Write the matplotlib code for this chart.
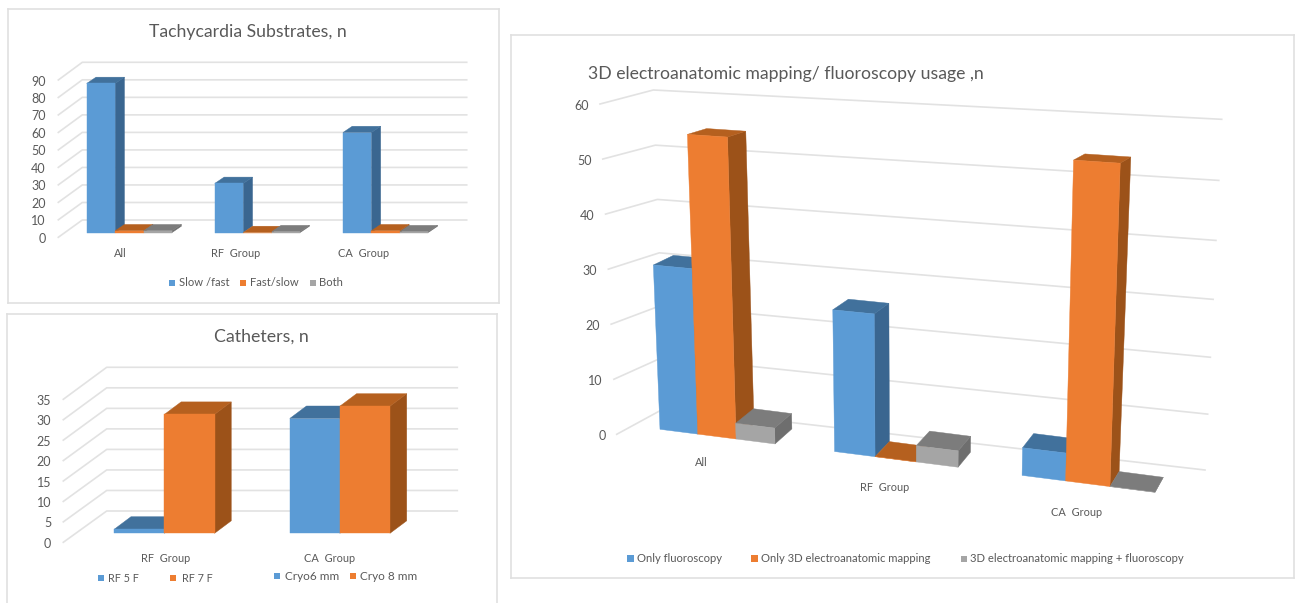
import numpy as np
import matplotlib
matplotlib.use("Agg")
import matplotlib.pyplot as plt
from matplotlib.patches import Polygon, Rectangle

plt.rcParams['font.family'] = ['Lato', 'DejaVu Sans']

W, H = 1295, 603
TEXT = "#595959"
GRID = "#e2e2e2"
FRAME = "#e0e0e0"

# front, top and side colours of the excel style 3d bars
BLUE = ("#5b9bd5", "#41719c", "#3a6690")
ORANGE = ("#ed7d31", "#b5601f", "#9c5219")
GRAY = ("#a5a5a5", "#7c7c7c", "#6e6e6e")

groups = ["All", "RF  Group", "CA  Group"]

slow_fast = [85, 28, 57]
fast_slow = [1, 0, 1]
both = [1, 0.5, 0.5]

cath_groups = ["RF  Group", "CA  Group"]
cath_blue = [1, 28]
cath_orange = [29, 31]

only_fluoro = [31, 26, 5]
only_3d = [55, 0, 55]
combined = [3, 3, 0]


def homography(quad, xmax, vmax):
    # maps (x, v) to pixels from corners given as
    # (0,0), (xmax,0), (xmax,vmax), (0,vmax)
    src = [(0, 0), (xmax, 0), (xmax, vmax), (0, vmax)]
    A = []
    b = []
    for (x, v), (px, py) in zip(src, quad):
        A.append([x, v, 1, 0, 0, 0, -px * x, -px * v])
        A.append([0, 0, 0, x, v, 1, -py * x, -py * v])
        b += [px, py]
    h = np.linalg.solve(np.array(A, float), np.array(b, float))
    return np.append(h, 1).reshape(3, 3)


def project(M, x, v):
    p = M @ np.array([x, v, 1.0])
    return p[:2] / p[2]


def panel(x0, y0, x1, y1):
    # every panel uses figure pixels as its data coordinates
    ax = plt.gcf().add_axes([x0 / W, 1 - y1 / H, (x1 - x0) / W, (y1 - y0) / H])
    ax.set_xlim(x0, x1)
    ax.set_ylim(y1, y0)
    ax.set_xticks([])
    ax.set_yticks([])
    for s in ax.spines.values():
        s.set_color(FRAME)
        s.set_linewidth(1.2)
    return ax


def walls(ax, ticks, edge, wall, label_gap=11, fs=9):
    # gridlines on the back wall plus the short floor lines at the left
    vmax = ticks[-1]
    Mw = homography(wall, 1, vmax)
    for t in ticks:
        e = np.array(edge[0]) + (np.array(edge[1]) - np.array(edge[0])) * t / vmax
        a = project(Mw, 0, t)
        b = project(Mw, 1, t)
        ax.plot([e[0], a[0], b[0]], [e[1], a[1], b[1]], color=GRID, lw=1.2, zorder=1)
        ax.text(e[0] - label_gap, e[1] + 1.5, str(t), ha="right", va="center", color=TEXT, fontsize=fs)


def box(ax, Mf, Mb, x0, x1, v, colors):
    side = [project(Mf, x1, 0), project(Mb, x1, 0), project(Mb, x1, v), project(Mf, x1, v)]
    top = [project(Mf, x0, v), project(Mf, x1, v), project(Mb, x1, v), project(Mb, x0, v)]
    front = [project(Mf, x0, 0), project(Mf, x1, 0), project(Mf, x1, v), project(Mf, x0, v)]
    for poly, c in ((side, colors[2]), (top, colors[1]), (front, colors[0])):
        ax.add_patch(Polygon(poly, closed=True, facecolor=c, edgecolor=c, lw=0.3, zorder=3))


def bars(ax, Mf, Mb, series, colors, pitch):
    for i in range(len(series[0])):
        for k, vals in enumerate(series):
            box(ax, Mf, Mb, i * pitch + k, i * pitch + k + 1, vals[i], colors[k])


def legend_item(ax, xm, ym, xt, label, color, size=6, fs=8.1):
    ax.add_patch(Rectangle((xm, ym - size / 2), size, size, facecolor=color, edgecolor="none"))
    ax.text(xt, ym, label, ha="left", va="center", color=TEXT, fontsize=fs)


fig = plt.figure(figsize=(W / 100, H / 100), dpi=100)

# Tachycardia substrates
ax1 = panel(8, 9, 499, 303)
ax1.text(248, 32, "Tachycardia Substrates, n", ha="center", va="center", color=TEXT, fontsize=12.7)
walls(ax1, list(range(0, 100, 10)), [(58.3, 237.3), (58.3, 80)],
      [(82.3, 220), (466.7, 220), (466.7, 62.3), (82.3, 62.3)], label_gap=12.5)
front1 = [(86.7, 232.5), (428.3, 232.5), (428.3, 74.7), (86.7, 74.7)]
back1 = [(x + 9.3, y - 6.3) for x, y in front1]
Mf1, Mb1 = homography(front1, 12, 90), homography(back1, 12, 90)
bars(ax1, Mf1, Mb1, [slow_fast, fast_slow, both], [BLUE, ORANGE, GRAY], 4.5)
for label, x in zip(groups, [120, 235.7, 363.3]):
    ax1.text(x, 253.3, label, ha="center", va="center", color=TEXT, fontsize=7.9)
legend_item(ax1, 169, 283, 179, "Slow /fast", BLUE[0])
legend_item(ax1, 240, 283, 250, "Fast/slow", ORANGE[0])
legend_item(ax1, 310, 283, 319, "Both", GRAY[0])

# Catheters
ax2 = panel(7, 314, 497, 606)
ax2.text(261.7, 337, "Catheters, n", ha="center", va="center", color=TEXT, fontsize=12.8)
walls(ax2, list(range(0, 40, 5)), [(63.3, 542.3), (63.3, 399.3)],
      [(106.7, 511), (457.3, 511), (457.3, 367.3), (106.7, 367.3)], label_gap=12)
front2 = [(114.3, 533.3), (390, 533.3), (390, 389.8), (114.3, 389.8)]
back2 = [(x + 16.7, y - 12.5) for x, y in front2]
Mf2, Mb2 = homography(front2, 5.5, 35), homography(back2, 5.5, 35)
bars(ax2, Mf2, Mb2, [cath_blue, cath_orange], [BLUE, ORANGE], 3.5)
for label, x in zip(cath_groups, [166, 330]):
    ax2.text(x, 558.3, label, ha="center", va="center", color=TEXT, fontsize=7.9)
legend_item(ax2, 98, 578.3, 107.5, "RF 5 F", BLUE[0], fs=7.8)
legend_item(ax2, 170, 578.3, 182, "RF 7 F", ORANGE[0], fs=7.8)
legend_item(ax2, 274, 576, 285, "Cryo6 mm", BLUE[0], fs=8.5)
legend_item(ax2, 350, 576, 360, "Cryo 8 mm", ORANGE[0], fs=8.5)

# 3D mapping / fluoroscopy, seen in perspective
ax3 = panel(511, 35, 1294, 578)
ax3.text(588.3, 74.5, "3D electroanatomic mapping/ fluoroscopy usage ,n", ha="left", va="center",
         color=TEXT, fontsize=12.7)
walls(ax3, list(range(0, 70, 10)), [(616.7, 434.3), (600, 104)],
      [(665, 408), (1205, 470), (1221.7, 119.3), (653.3, 90)], label_gap=11)
front3 = [(660, 429.3), (1155, 492.3), (1169, 135), (646.8, 103.3)]
back3 = [(680, 414.3), (1163.3, 477.3), (1179, 129.5), (667, 98.3)]
Mf3, Mb3 = homography(front3, 12, 60), homography(back3, 12, 60)
bars(ax3, Mf3, Mb3, [only_fluoro, only_3d, combined], [BLUE, ORANGE, GRAY], 4.5)
for label, x, y in zip(groups, [701.7, 884.5, 1076.7], [462.3, 487.3, 512.7]):
    ax3.text(x, y, label, ha="center", va="center", color=TEXT, fontsize=7.9)
legend_item(ax3, 627, 558.7, 637.3, "Only fluoroscopy", BLUE[0], size=7)
legend_item(ax3, 750.7, 558.7, 761, "Only 3D electroanatomic mapping", ORANGE[0], size=7)
legend_item(ax3, 960.7, 558.7, 970.3, "3D electroanatomic mapping + fluoroscopy", GRAY[0], size=6)

fig.savefig("out.png", dpi=100)
